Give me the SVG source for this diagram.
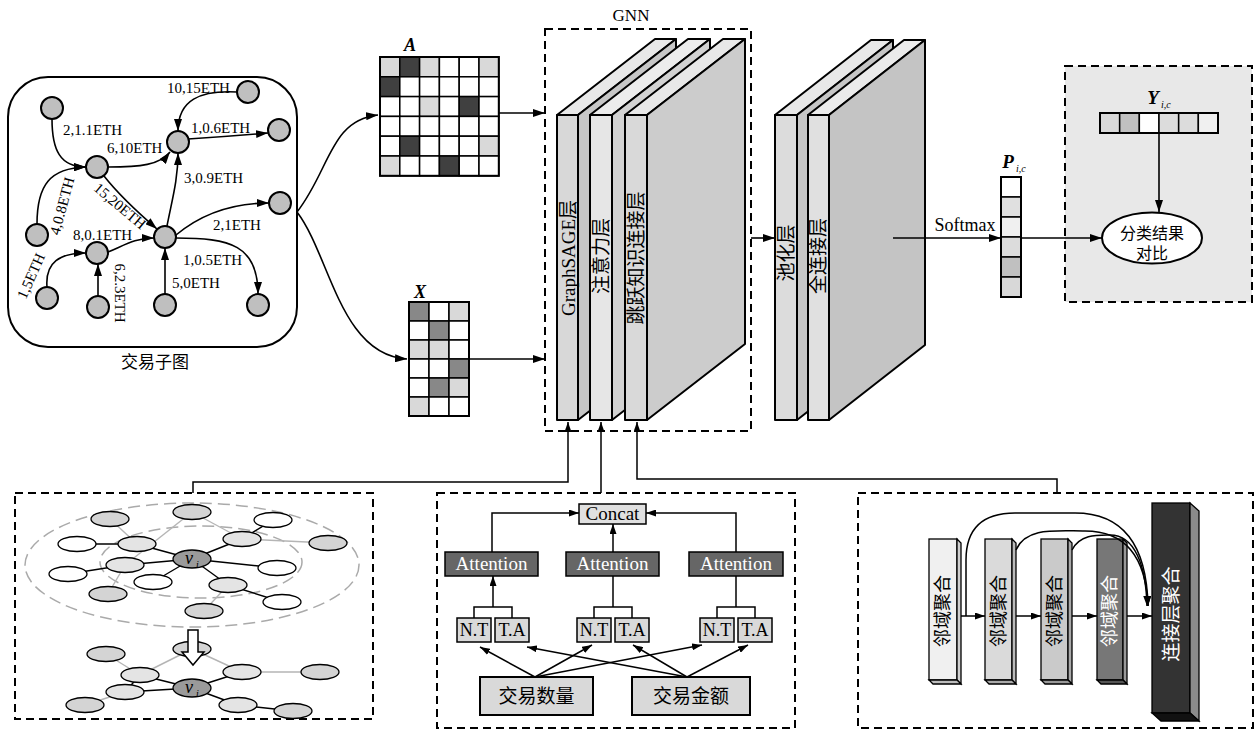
<svg xmlns="http://www.w3.org/2000/svg" width="1257" height="732" viewBox="0 0 1257 732">
<defs>
<marker id="ah" viewBox="0 0 12 8" refX="12" refY="4" markerWidth="12" markerHeight="8" orient="auto" markerUnits="userSpaceOnUse"><path d="M0,0 L12,4 L0,8 z" fill="#000"/></marker>
<marker id="ahs" viewBox="0 0 10 7" refX="10" refY="3.5" markerWidth="10" markerHeight="7" orient="auto" markerUnits="userSpaceOnUse"><path d="M0,0 L10,3.5 L0,7 z" fill="#000"/></marker>
</defs>
<style>
.t{font-family:"Liberation Serif","Noto Sans CJK SC",serif;fill:#000}
.el{font-size:15px}
.e{fill:none;stroke:#000;stroke-width:1.6;marker-end:url(#ah)}
.es{fill:none;stroke:#000;stroke-width:1.5;marker-end:url(#ahs)}
.ln{fill:none;stroke:#000;stroke-width:1.5}
.nd{fill:#bfbfbf;stroke:#000;stroke-width:2}
.dash{fill:none;stroke:#000;stroke-width:2;stroke-dasharray:8 5}
.cell{stroke:#000;stroke-width:1.5}
.ly{stroke:#000;stroke-width:2;stroke-linejoin:round}
.gn{stroke:#000;stroke-width:1.3}
.gl{stroke:#b5b5b5;stroke-width:1.4}
.bl{stroke:#000;stroke-width:1.4}
.bx{stroke:#000;stroke-width:1.5}
</style>

<!-- Transaction subgraph -->
<g id="subgraph">
<rect x="8" y="77" width="289" height="270" rx="40" fill="#fff" stroke="#000" stroke-width="2"/>
<g class="edges">
<path class="e" d="M52,119 C52,150 60,167 86,167"/>
<path class="e" d="M37,224 C37,185 50,168 86,167"/>
<path class="e" d="M108,167 C140,167 160,165 170,152"/>
<path class="e" d="M104,176 C115,190 135,210 157,229"/>
<path class="e" d="M237,92 C200,90 178,100 178,131"/>
<path class="e" d="M188,139 C220,137 245,135 268,133"/>
<path class="e" d="M167,226 C172,200 178,180 178,153"/>
<path class="e" d="M176,235 C200,215 230,203 269,203"/>
<path class="e" d="M176,238 C230,238 258,245 258,294"/>
<path class="e" d="M108,252 C125,245 135,238 154,238"/>
<path class="e" d="M47,287 C45,262 60,253 86,253"/>
<path class="e" d="M98,296 L98,264"/>
<path class="e" d="M165,294 L165,248"/>
</g>
<circle class="nd" cx="52" cy="108" r="11"/>
<circle class="nd" cx="248" cy="92" r="11"/>
<circle class="nd" cx="178" cy="142" r="11"/>
<circle class="nd" cx="279" cy="130" r="11"/>
<circle class="nd" cx="97" cy="167" r="11"/>
<circle class="nd" cx="280" cy="203" r="11"/>
<circle class="nd" cx="37" cy="235" r="11"/>
<circle class="nd" cx="165" cy="237" r="11"/>
<circle class="nd" cx="97" cy="253" r="11"/>
<circle class="nd" cx="47" cy="298" r="11"/>
<circle class="nd" cx="98" cy="307" r="11"/>
<circle class="nd" cx="165" cy="305" r="11"/>
<circle class="nd" cx="258" cy="305" r="11"/>
<text class="t el" x="167" y="93">10,15ETH</text>
<text class="t el" x="63" y="135">2,1.1ETH</text>
<text class="t el" x="191" y="133">1,0.6ETH</text>
<text class="t el" x="107" y="153">6,10ETH</text>
<text class="t el" x="184" y="183">3,0.9ETH</text>
<text class="t el" x="213" y="230">2,1ETH</text>
<text class="t el" x="73" y="240">8,0.1ETH</text>
<text class="t el" x="183" y="265">1,0.5ETH</text>
<text class="t el" x="172" y="288">5,0ETH</text>
<text class="t el" text-anchor="middle" transform="translate(62,206) rotate(-75)" dy="5">4,0.8ETH</text>
<text class="t el" text-anchor="middle" transform="translate(120,206) rotate(40)" dy="5">15,20ETH</text>
<text class="t el" text-anchor="middle" transform="translate(31,276) rotate(-66)" dy="5">1,5ETH</text>
<text class="t el" text-anchor="middle" transform="translate(120,293) rotate(90)" dy="5">6,2.3ETH</text>
<text class="t" x="155" y="368" font-size="17" text-anchor="middle">交易子图</text>
</g>

<!-- Matrix A -->
<g id="matrixA">
<text class="t" x="410" y="51" font-size="18" font-style="italic" font-weight="bold" text-anchor="middle">A</text>
<g class="cell">
<rect x="380" y="57" width="19.8" height="19.8" fill="#d9d9d9"/><rect x="399.8" y="57" width="19.8" height="19.8" fill="#404040"/><rect x="419.6" y="57" width="19.8" height="19.8" fill="#d9d9d9"/><rect x="439.4" y="57" width="19.8" height="19.8" fill="#fff"/><rect x="459.2" y="57" width="19.8" height="19.8" fill="#fff"/><rect x="479" y="57" width="19.8" height="19.8" fill="#d9d9d9"/>
<rect x="380" y="76.8" width="19.8" height="19.8" fill="#404040"/><rect x="399.8" y="76.8" width="19.8" height="19.8" fill="#fff"/><rect x="419.6" y="76.8" width="19.8" height="19.8" fill="#fff"/><rect x="439.4" y="76.8" width="19.8" height="19.8" fill="#fff"/><rect x="459.2" y="76.8" width="19.8" height="19.8" fill="#fff"/><rect x="479" y="76.8" width="19.8" height="19.8" fill="#fff"/>
<rect x="380" y="96.6" width="19.8" height="19.8" fill="#fff"/><rect x="399.8" y="96.6" width="19.8" height="19.8" fill="#fff"/><rect x="419.6" y="96.6" width="19.8" height="19.8" fill="#d9d9d9"/><rect x="439.4" y="96.6" width="19.8" height="19.8" fill="#fff"/><rect x="459.2" y="96.6" width="19.8" height="19.8" fill="#404040"/><rect x="479" y="96.6" width="19.8" height="19.8" fill="#fff"/>
<rect x="380" y="116.4" width="19.8" height="19.8" fill="#fff"/><rect x="399.8" y="116.4" width="19.8" height="19.8" fill="#fff"/><rect x="419.6" y="116.4" width="19.8" height="19.8" fill="#fff"/><rect x="439.4" y="116.4" width="19.8" height="19.8" fill="#fff"/><rect x="459.2" y="116.4" width="19.8" height="19.8" fill="#fff"/><rect x="479" y="116.4" width="19.8" height="19.8" fill="#fff"/>
<rect x="380" y="136.2" width="19.8" height="19.8" fill="#fff"/><rect x="399.8" y="136.2" width="19.8" height="19.8" fill="#404040"/><rect x="419.6" y="136.2" width="19.8" height="19.8" fill="#fff"/><rect x="439.4" y="136.2" width="19.8" height="19.8" fill="#fff"/><rect x="459.2" y="136.2" width="19.8" height="19.8" fill="#fff"/><rect x="479" y="136.2" width="19.8" height="19.8" fill="#d9d9d9"/>
<rect x="380" y="156" width="19.8" height="19.8" fill="#d9d9d9"/><rect x="399.8" y="156" width="19.8" height="19.8" fill="#fff"/><rect x="419.6" y="156" width="19.8" height="19.8" fill="#fff"/><rect x="439.4" y="156" width="19.8" height="19.8" fill="#404040"/><rect x="459.2" y="156" width="19.8" height="19.8" fill="#fff"/><rect x="479" y="156" width="19.8" height="19.8" fill="#fff"/>
</g>
<rect x="380" y="57" width="118.8" height="118.8" fill="none" stroke="#000" stroke-width="2"/>
</g>

<!-- Matrix X -->
<g id="matrixX">
<text class="t" x="420" y="298" font-size="18" font-style="italic" font-weight="bold" text-anchor="middle">X</text>
<g class="cell">
<rect x="409" y="302" width="20" height="19" fill="#888"/><rect x="429" y="302" width="20" height="19" fill="#fff"/><rect x="449" y="302" width="20" height="19" fill="#d9d9d9"/>
<rect x="409" y="321" width="20" height="19" fill="#fff"/><rect x="429" y="321" width="20" height="19" fill="#888"/><rect x="449" y="321" width="20" height="19" fill="#fff"/>
<rect x="409" y="340" width="20" height="19" fill="#d9d9d9"/><rect x="429" y="340" width="20" height="19" fill="#d9d9d9"/><rect x="449" y="340" width="20" height="19" fill="#fff"/>
<rect x="409" y="359" width="20" height="19" fill="#fff"/><rect x="429" y="359" width="20" height="19" fill="#fff"/><rect x="449" y="359" width="20" height="19" fill="#888"/>
<rect x="409" y="378" width="20" height="19" fill="#fff"/><rect x="429" y="378" width="20" height="19" fill="#888"/><rect x="449" y="378" width="20" height="19" fill="#d9d9d9"/>
<rect x="409" y="397" width="20" height="19" fill="#d9d9d9"/><rect x="429" y="397" width="20" height="19" fill="#fff"/><rect x="449" y="397" width="20" height="19" fill="#fff"/>
</g>
<rect x="409" y="302" width="60" height="114" fill="none" stroke="#000" stroke-width="2"/>
</g>

<!-- GNN -->
<g id="gnn">
<text class="t" x="631" y="21" font-size="17" text-anchor="middle">GNN</text>
<rect class="dash" x="545" y="29" width="206" height="402"/>
<g class="ly">
<polygon points="557,115 655,39 676,39 578,115" fill="#e8e8e8"/>
<polygon points="578,115 676,39 676,344 578,420" fill="#c6c6c6"/>
<rect x="557" y="115" width="21" height="305" fill="#d8d8d8"/>
<polygon points="590,115 688,39 710,39 612,115" fill="#ececec"/>
<polygon points="612,115 710,39 710,344 612,420" fill="#d2d2d2"/>
<rect x="590" y="115" width="22" height="305" fill="#e6e6e6"/>
<polygon points="625,115 723,39 745,39 647,115" fill="#e8e8e8"/>
<polygon points="647,115 745,39 745,344 647,420" fill="#cccccc"/>
<rect x="625" y="115" width="22" height="305" fill="#d9d9d9"/>
</g>
<text class="t" font-size="19" text-anchor="middle" transform="translate(568,258) rotate(-90)" dy="7">GraphSAGE层</text>
<text class="t" font-size="19" text-anchor="middle" transform="translate(601,256) rotate(-90)" dy="7">注意力层</text>
<text class="t" font-size="19" text-anchor="middle" transform="translate(636,258) rotate(-90)" dy="7">跳跃知识连接层</text>
</g>

<!-- Pool / FC layers -->
<g id="poolfc">
<g class="ly">
<polygon points="775,115 871,40 893,40 797,115" fill="#e8e8e8"/>
<polygon points="797,115 893,40 893,345 797,420" fill="#c6c6c6"/>
<rect x="775" y="115" width="22" height="305" fill="#dcdcdc"/>
<polygon points="808,115 904,40 925,40 829,115" fill="#ebebeb"/>
<polygon points="829,115 925,40 925,345 829,420" fill="#c4c4c4"/>
<rect x="808" y="115" width="21" height="305" fill="#e0e0e0"/>
</g>
<text class="t" font-size="19" text-anchor="middle" transform="translate(786,253) rotate(-90)" dy="7">池化层</text>
<text class="t" font-size="19" text-anchor="middle" transform="translate(818,256) rotate(-90)" dy="7">全连接层</text>
</g>

<!-- P vector -->
<g id="pvec">
<text class="t" x="1008" y="168" font-size="19" font-style="italic" font-weight="bold" text-anchor="middle">P</text>
<text class="t" x="1016" y="172" font-size="10" font-style="italic">i,c</text>
<g class="cell">
<rect x="1001" y="177" width="20" height="20" fill="#fff"/>
<rect x="1001" y="197" width="20" height="20" fill="#e0e0e0"/>
<rect x="1001" y="217" width="20" height="20" fill="#f0f0f0"/>
<rect x="1001" y="237" width="20" height="20" fill="#dcdcdc"/>
<rect x="1001" y="257" width="20" height="20" fill="#c0c0c0"/>
<rect x="1001" y="277" width="20" height="20" fill="#d8d8d8"/>
</g>
<rect x="1001" y="177" width="20" height="120" fill="none" stroke="#000" stroke-width="2"/>
</g>

<!-- Comparison box -->
<g id="compare">
<rect x="1065" y="66" width="187" height="236" fill="#e8e8e8" stroke="#000" stroke-width="2" stroke-dasharray="8 5"/>
<text class="t" x="1153" y="104" font-size="19" font-style="italic" font-weight="bold" text-anchor="middle">Y</text>
<text class="t" x="1161" y="108" font-size="10" font-style="italic">i,c</text>
<g class="cell">
<rect x="1100" y="113" width="19.67" height="20" fill="#d9d9d9"/>
<rect x="1119.67" y="113" width="19.67" height="20" fill="#c0c0c0"/>
<rect x="1139.33" y="113" width="19.67" height="20" fill="#fff"/>
<rect x="1159" y="113" width="19.67" height="20" fill="#dcdcdc"/>
<rect x="1178.67" y="113" width="19.67" height="20" fill="#dcdcdc"/>
<rect x="1198.33" y="113" width="19.67" height="20" fill="#f0f0f0"/>
</g>
<rect x="1100" y="113" width="118" height="20" fill="none" stroke="#000" stroke-width="2"/>
<ellipse cx="1152" cy="238" rx="50" ry="25.5" fill="#fff" stroke="#000" stroke-width="2"/>
<text class="t" x="1152" y="239" font-size="16" text-anchor="middle">分类结果</text>
<text class="t" x="1152" y="259" font-size="16" text-anchor="middle">对比</text>
</g>

<!-- Bottom-left: neighbourhood sampling -->
<g id="sampling">
<rect class="dash" x="15" y="493" width="358" height="226"/>
<ellipse cx="192" cy="565" rx="167" ry="62" fill="none" stroke="#aaa" stroke-width="1.5" stroke-dasharray="12 6"/>
<ellipse cx="201" cy="562" rx="101" ry="36" fill="none" stroke="#aaa" stroke-width="1.5" stroke-dasharray="12 6"/>
<g class="gl">
<line x1="137" y1="544" x2="110" y2="519"/>
<line x1="192" y1="512" x2="125" y2="565"/>
<line x1="192" y1="512" x2="242" y2="539"/>
<line x1="242" y1="539" x2="328" y2="543"/>
<line x1="125" y1="565" x2="108" y2="594"/>
<line x1="228" y1="585" x2="204" y2="611"/>
</g>
<g class="bl">
<line x1="192" y1="559" x2="137" y2="544"/>
<line x1="192" y1="559" x2="125" y2="565"/>
<line x1="192" y1="559" x2="242" y2="539"/>
<line x1="192" y1="559" x2="228" y2="585"/>
<line x1="192" y1="559" x2="153" y2="582"/>
<line x1="192" y1="559" x2="277" y2="568"/>
<line x1="137" y1="544" x2="77" y2="544"/>
<line x1="125" y1="565" x2="68" y2="574"/>
<line x1="242" y1="539" x2="273" y2="520"/>
<line x1="228" y1="585" x2="282" y2="602"/>
</g>
<g class="gn">
<ellipse cx="110" cy="519" rx="19" ry="7.5" fill="#d4d4d4"/>
<ellipse cx="192" cy="512" rx="19" ry="7.5" fill="#d4d4d4"/>
<ellipse cx="328" cy="543" rx="19" ry="7.5" fill="#d4d4d4"/>
<ellipse cx="108" cy="594" rx="19" ry="7.5" fill="#d4d4d4"/>
<ellipse cx="204" cy="611" rx="19" ry="7.5" fill="#d4d4d4"/>
<ellipse cx="77" cy="544" rx="19" ry="7.5" fill="#fff"/>
<ellipse cx="68" cy="574" rx="19" ry="7.5" fill="#fff"/>
<ellipse cx="273" cy="520" rx="19" ry="7.5" fill="#fff"/>
<ellipse cx="282" cy="602" rx="19" ry="7.5" fill="#fff"/>
<ellipse cx="153" cy="582" rx="19" ry="7.5" fill="#fff"/>
<ellipse cx="277" cy="568" rx="19" ry="7.5" fill="#fff"/>
<ellipse cx="137" cy="544" rx="19" ry="7.5" fill="#e4e4e4"/>
<ellipse cx="125" cy="565" rx="19" ry="7.5" fill="#e4e4e4"/>
<ellipse cx="242" cy="539" rx="19" ry="7.5" fill="#e4e4e4"/>
<ellipse cx="228" cy="585" rx="19" ry="7.5" fill="#e4e4e4"/>
<ellipse cx="192" cy="559" rx="19" ry="9" fill="#9a9a9a"/>
</g>
<text class="t" x="189" y="564" font-size="18" font-style="italic" text-anchor="middle">v</text>
<text class="t" x="196" y="568" font-size="10" font-style="italic">i</text>

<g class="gl">
<line x1="140" y1="675" x2="106" y2="654"/>
<line x1="140" y1="675" x2="192" y2="649"/>
<line x1="192" y1="649" x2="242" y2="672"/>
<line x1="242" y1="672" x2="320" y2="672"/>
<line x1="125" y1="692" x2="85" y2="705"/>
</g>
<g class="bl">
<line x1="192" y1="688" x2="140" y2="675"/>
<line x1="192" y1="688" x2="125" y2="692"/>
<line x1="192" y1="688" x2="242" y2="672"/>
<line x1="192" y1="688" x2="238" y2="705"/>
<line x1="140" y1="675" x2="125" y2="692"/>
<line x1="238" y1="705" x2="293" y2="711"/>
</g>
<g class="gn">
<ellipse cx="106" cy="654" rx="19" ry="7.5" fill="#d4d4d4"/>
<ellipse cx="192" cy="649" rx="19" ry="7.5" fill="#d4d4d4"/>
<ellipse cx="320" cy="672" rx="19" ry="7.5" fill="#d4d4d4"/>
<ellipse cx="85" cy="705" rx="19" ry="7.5" fill="#d4d4d4"/>
<ellipse cx="293" cy="711" rx="19" ry="7.5" fill="#d4d4d4"/>
<ellipse cx="140" cy="675" rx="19" ry="7.5" fill="#e4e4e4"/>
<ellipse cx="125" cy="692" rx="19" ry="7.5" fill="#e4e4e4"/>
<ellipse cx="242" cy="672" rx="19" ry="7.5" fill="#e4e4e4"/>
<ellipse cx="238" cy="705" rx="19" ry="7.5" fill="#e4e4e4"/>
<ellipse cx="192" cy="688" rx="19" ry="9" fill="#9a9a9a"/>
</g>
<text class="t" x="189" y="693" font-size="18" font-style="italic" text-anchor="middle">v</text>
<text class="t" x="196" y="697" font-size="10" font-style="italic">i</text>
<polygon points="188,630 198,630 198,652 204,652 193,665 182,652 188,652" fill="#fff" stroke="#000" stroke-width="1.5"/>
</g>

<!-- Bottom-middle: attention -->
<g id="attention">
<rect class="dash" x="437" y="493" width="358" height="235"/>
<g class="ln">
<path d="M474,618 V607 H512 V618"/>
<path d="M594,618 V607 H632 V618"/>
<path d="M717,618 V607 H755 V618"/>
<path d="M613,607 V576"/>
<path d="M736,607 V576"/>
</g>
<path class="es" d="M493,607 V576"/>
<path class="es" d="M492,552 V513 H579"/>
<path class="es" d="M613,552 V524"/>
<path class="es" d="M736,552 V513 H646"/>
<g class="bx">
<rect x="579" y="504" width="67" height="20" fill="#e0e0e0"/>
<rect x="445" y="552" width="93" height="24" fill="#666"/>
<rect x="566" y="552" width="93" height="24" fill="#666"/>
<rect x="689" y="552" width="94" height="24" fill="#666"/>
<rect x="457" y="618" width="34" height="24" fill="#d9d9d9"/>
<rect x="495" y="618" width="34" height="24" fill="#d9d9d9"/>
<rect x="577" y="618" width="34" height="24" fill="#d9d9d9"/>
<rect x="615" y="618" width="34" height="24" fill="#d9d9d9"/>
<rect x="700" y="618" width="34" height="24" fill="#d9d9d9"/>
<rect x="738" y="618" width="34" height="24" fill="#d9d9d9"/>
</g>
<rect x="480" y="677" width="113" height="38" fill="#d9d9d9" stroke="#000" stroke-width="2"/>
<rect x="632" y="677" width="118" height="38" fill="#d9d9d9" stroke="#000" stroke-width="2"/>
<text class="t" x="612.5" y="520" font-size="19" text-anchor="middle">Concat</text>
<text class="t" x="491.5" y="570" font-size="19" text-anchor="middle" fill="#fff" style="fill:#fff">Attention</text>
<text class="t" x="612.5" y="570" font-size="19" text-anchor="middle" style="fill:#fff">Attention</text>
<text class="t" x="736" y="570" font-size="19" text-anchor="middle" style="fill:#fff">Attention</text>
<text class="t" x="474" y="636" font-size="18" text-anchor="middle">N.T</text>
<text class="t" x="512" y="636" font-size="18" text-anchor="middle">T.A</text>
<text class="t" x="594" y="636" font-size="18" text-anchor="middle">N.T</text>
<text class="t" x="632" y="636" font-size="18" text-anchor="middle">T.A</text>
<text class="t" x="717" y="636" font-size="18" text-anchor="middle">N.T</text>
<text class="t" x="755" y="636" font-size="18" text-anchor="middle">T.A</text>
<text class="t" x="536.5" y="703" font-size="19" text-anchor="middle">交易数量</text>
<text class="t" x="691" y="703" font-size="19" text-anchor="middle">交易金额</text>
<g>
<path class="es" d="M535,677 L480,647"/>
<path class="es" d="M535,677 L592,645"/>
<path class="es" d="M535,677 L702,645"/>
<path class="es" d="M687,677 L527,647"/>
<path class="es" d="M687,677 L633,645"/>
<path class="es" d="M687,677 L748,645"/>
</g>
</g>

<!-- Bottom-right: jumping knowledge -->
<g id="jk">
<rect class="dash" x="858" y="493" width="395" height="235"/>
<g stroke="#000" stroke-width="1.3">
<rect x="929" y="539" width="28" height="141" fill="#f0f0f0"/>
<polygon points="957,539 961,543 961,684 957,680" fill="#cfcfcf"/>
<polygon points="929,680 957,680 961,684 933,684" fill="#bdbdbd"/>
<rect x="985" y="539" width="27" height="141" fill="#dadada"/>
<polygon points="1012,539 1016,543 1016,684 1012,680" fill="#bbb"/>
<polygon points="985,680 1012,680 1016,684 989,684" fill="#aaa"/>
<rect x="1041" y="539" width="27" height="141" fill="#cacaca"/>
<polygon points="1068,539 1072,543 1072,684 1068,680" fill="#aaa"/>
<polygon points="1041,680 1068,680 1072,684 1045,684" fill="#999"/>
<rect x="1097" y="539" width="26" height="141" fill="#777"/>
<polygon points="1123,539 1127,543 1127,684 1123,680" fill="#999"/>
<polygon points="1097,680 1123,680 1127,684 1101,684" fill="#555"/>
<rect x="1152" y="503" width="38" height="210" fill="#333"/>
<polygon points="1190,503 1199,511 1199,721 1190,713" fill="#8a8a8a"/>
<polygon points="1152,713 1190,713 1199,721 1161,721" fill="#111"/>
</g>
<text class="t" font-size="18" text-anchor="middle" transform="translate(943,611) rotate(-90)" dy="6">邻域聚合</text>
<text class="t" font-size="18" text-anchor="middle" transform="translate(998.5,611) rotate(-90)" dy="6">邻域聚合</text>
<text class="t" font-size="18" text-anchor="middle" transform="translate(1054.5,611) rotate(-90)" dy="6">邻域聚合</text>
<text class="t" font-size="18" text-anchor="middle" transform="translate(1110,611) rotate(-90)" dy="6" style="fill:#fff">邻域聚合</text>
<text class="t" font-size="19" text-anchor="middle" transform="translate(1171,614) rotate(-90)" dy="7" style="fill:#fff">连接层聚合</text>
<path class="es" d="M961,616 H985"/>
<path class="es" d="M1016,616 H1041"/>
<path class="es" d="M1072,616 H1097"/>
<path class="es" d="M1127,616 H1152"/>
<path class="es" d="M966,616 V560 Q966,513 1015,513 L1075,513 Q1146,513 1148,606"/>
<path class="es" d="M1016,550 C1026,527 1055,531 1085,531 C1128,531 1146,560 1148,606"/>
<path class="es" d="M1072,550 C1080,534 1098,535 1110,535 C1135,535 1146,566 1147,606"/>
</g>

<!-- Connectors -->
<g id="connectors">
<path class="e" d="M297,212 C330,170 330,120 378,115"/>
<path class="e" d="M297,212 C330,255 340,355 407,359"/>
<path class="e" d="M499,113 L545,113"/>
<path class="e" d="M469,359 L545,359"/>
<path class="e" d="M751,238 L775,238"/>
<path class="e" d="M893,238 L1001,238"/>
<path class="e" d="M1021,238 L1102,238"/>
<path class="e" d="M1159,133 L1159,212"/>
<text class="t" x="965" y="231" font-size="18" text-anchor="middle">Softmax</text>
<path class="es" d="M193,493 V482 H568 V422"/>
<path class="es" d="M601,493 V422"/>
<path class="es" d="M1057,493 V479 H637 V422"/>
</g>
</svg>
